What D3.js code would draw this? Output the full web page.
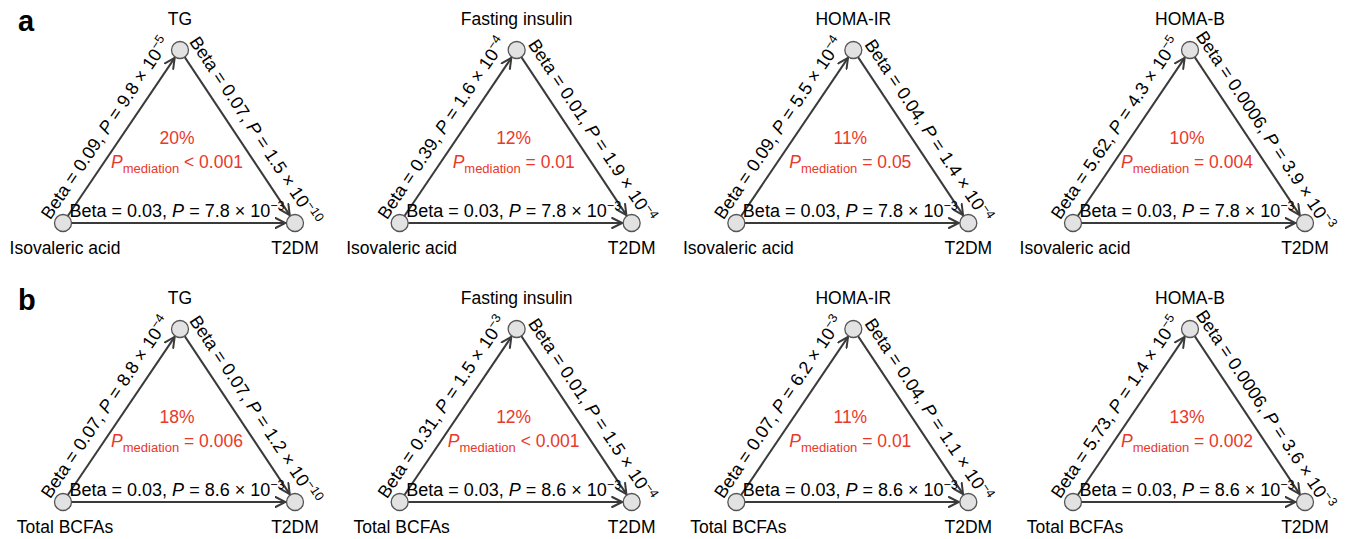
<!DOCTYPE html>
<html>
<head>
<meta charset="utf-8">
<script src="https://cdn.jsdelivr.net/npm/d3@7"></script>
<style>
  html, body { margin: 0; padding: 0; background: #fff; }
  svg { display: block; font-family: Arial, "Liberation Sans", sans-serif; }
</style>
</head>
<body>
<svg id="chart" width="1348" height="539"></svg>
<script>
// ---------------- data ----------------
const rowLetters = ["a", "b"];
const exposures = ["Isovaleric acid", "Total BCFAs"];
const mediators = ["TG", "Fasting insulin", "HOMA-IR", "HOMA-B"];
const outcome = "T2DM";

// exposure -> mediator path
const aBeta = [["0.09", "0.39", "0.09", "5.62"], ["0.07", "0.31", "0.07", "5.73"]];
const aPMant = [["9.8", "1.6", "5.5", "4.3"], ["8.8", "1.5", "6.2", "1.4"]];
const aPExp = [[-5, -4, -4, -5], [-4, -3, -3, -5]];
// mediator -> outcome path
const bBeta = [["0.07", "0.01", "0.04", "0.0006"], ["0.07", "0.01", "0.04", "0.0006"]];
const bPMant = [["1.5", "1.9", "1.4", "3.9"], ["1.2", "1.5", "1.1", "3.6"]];
const bPExp = [[-10, -4, -4, -3], [-10, -4, -4, -3]];
// exposure -> outcome (direct)
const cBeta = ["0.03", "0.03"];
const cPMant = ["7.8", "8.6"];
const cPExp = [-3, -3];
// mediation
const mediatedPct = [[20, 12, 11, 10], [18, 12, 11, 13]];
const pMedOp = [["<", "=", "=", "="], ["=", "<", "=", "="]];
const pMed = [["0.001", "0.01", "0.05", "0.004"], ["0.006", "0.001", "0.01", "0.002"]];

// ---------------- layout ----------------
const svg = d3.select("#chart");
const colX = d3.scaleLinear().domain([0, 3]).range([63, 1073]);   // left node x per column
const rowY = d3.scalePoint().domain(rowLetters).range([223, 502]); // bottom node y per row
const triW = 232, triH = 173, nodeR = 8.5;
const lineColor = "#3a3a3a";
const red = "#e8392b";
const fs = 18;

svg.append("defs").append("marker")
  .attr("id", "arr")
  .attr("markerUnits", "userSpaceOnUse")
  .attr("viewBox", "0 0 12 12")
  .attr("refX", 11).attr("refY", 6)
  .attr("markerWidth", 12).attr("markerHeight", 12)
  .attr("orient", "auto")
  .append("path")
  .attr("d", "M1,1 L11,6 L1,11")
  .attr("fill", "none")
  .attr("stroke", lineColor)
  .attr("stroke-width", 2)
  .attr("stroke-linecap", "round")
  .attr("stroke-linejoin", "miter");

const minus = v => "\u2212" + Math.abs(v);

function addRich(sel, segs) {
  segs.forEach(s => {
    const t = sel.append("tspan").text(s.t);
    if (s.it) t.attr("font-style", "italic");
    if (s.fs) t.attr("font-size", s.fs);
    if (s.dy) t.attr("dy", s.dy);
  });
}
function pathSegs(beta, mant, exp) {
  return [
    { t: "Beta = " + beta + ", " },
    { t: "P", it: true },
    { t: " = " + mant + " \u00d7 10" },
    { t: minus(exp), fs: 12.5, dy: -7 }
  ];
}

rowLetters.forEach((row, ri) => {
  const yb = rowY(row);
  // panel letter
  svg.append("text").attr("x", 18).attr("y", yb - 192)
    .attr("font-size", 29).attr("font-weight", "bold").attr("fill", "#000")
    .text(row);

  mediators.forEach((med, ci) => {
    const x0 = colX(ci);
    const L = [x0, yb], T = [x0 + triW / 2 + 1, yb - triH], R = [x0 + triW, yb];
    const g = svg.append("g");

    const edges = [
      { s: L, e: T, segs: pathSegs(aBeta[ri][ci], aPMant[ri][ci], aPExp[ri][ci]), off: 12, shift: -2 },
      { s: T, e: R, segs: pathSegs(bBeta[ri][ci], bPMant[ri][ci], bPExp[ri][ci]), off: 12, shift: 5 },
      { s: L, e: R, segs: pathSegs(cBeta[ri], cPMant[ri], cPExp[ri]), off: 6, shift: -2 }
    ];

    edges.forEach(ed => {
      const dx = ed.e[0] - ed.s[0], dy = ed.e[1] - ed.s[1];
      const len = Math.hypot(dx, dy), ux = dx / len, uy = dy / len;
      g.append("line")
        .attr("x1", ed.s[0] + ux * nodeR).attr("y1", ed.s[1] + uy * nodeR)
        .attr("x2", ed.e[0] - ux * (nodeR + 1)).attr("y2", ed.e[1] - uy * (nodeR + 1))
        .attr("stroke", lineColor).attr("stroke-width", 2)
        .attr("marker-end", "url(#arr)");
      const ang = Math.atan2(dy, dx) * 180 / Math.PI;
      const mx = (ed.s[0] + ed.e[0]) / 2, my = (ed.s[1] + ed.e[1]) / 2;
      const t = g.append("text")
        .attr("transform", `translate(${mx},${my}) rotate(${ang})`)
        .attr("x", ed.shift).attr("y", -ed.off)
        .attr("text-anchor", "middle")
        .attr("font-size", fs).attr("fill", "#000");
      addRich(t, ed.segs);
    });

    [L, T, R].forEach(p => {
      g.append("circle").attr("cx", p[0]).attr("cy", p[1]).attr("r", nodeR)
        .attr("fill", "#e2e2e2").attr("stroke", "#555").attr("stroke-width", 1.3);
    });

    // node labels
    g.append("text").attr("x", T[0]).attr("y", T[1] - 25).attr("text-anchor", "middle")
      .attr("font-size", 17.5).attr("fill", "#000").text(med);
    g.append("text").attr("x", L[0] + 2).attr("y", L[1] + 31).attr("text-anchor", "middle")
      .attr("font-size", 17.5).attr("fill", "#000").text(exposures[ri]);
    g.append("text").attr("x", R[0]).attr("y", R[1] + 31).attr("text-anchor", "middle")
      .attr("font-size", 17.5).attr("fill", "#000").text(outcome);

    // mediation results
    const cx = x0 + triW / 2 - 2;
    g.append("text").attr("x", cx).attr("y", yb - 79).attr("text-anchor", "middle")
      .attr("font-size", 17.5).attr("fill", red).text(mediatedPct[ri][ci] + "%");
    const pm = g.append("text").attr("x", cx).attr("y", yb - 55).attr("text-anchor", "middle")
      .attr("font-size", 17.5).attr("fill", red);
    addRich(pm, [
      { t: "P", it: true },
      { t: "mediation", fs: 13, dy: 5 },
      { t: " " + pMedOp[ri][ci] + " " + pMed[ri][ci], dy: -5 }
    ]);
  });
});
</script>
</body>
</html>
